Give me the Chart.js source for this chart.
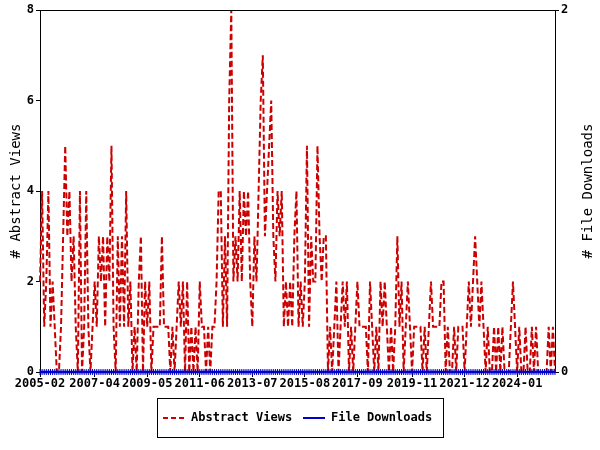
<!DOCTYPE html>
<html>
<head>
<meta charset="utf-8">
<script src="https://cdn.jsdelivr.net/npm/chart.js@4.4.1/dist/chart.umd.min.js"></script>
<style>
  html, body { margin: 0; padding: 0; background: #fff; }
  #wrap { width: 600px; height: 450px; }
</style>
</head>
<body>
<div id="wrap"><canvas id="chart" width="600" height="450"></canvas></div>
<script>
// months from 2005-02, one per point
const START_YEAR = 2005, START_MONTH = 2, N_MONTHS = 246;
const months = [];
for (let i = 0; i < N_MONTHS; i++) {
  const m = START_MONTH - 1 + i;
  const y = START_YEAR + Math.floor(m / 12);
  months.push(y + "-" + String(m % 12 + 1).padStart(2, "0"));
}

// labels shown on the x axis
const tickLabels = ["2005-02", "2007-04", "2009-05", "2011-06", "2013-07",
                    "2015-08", "2017-09", "2019-11", "2021-12", "2024-01"];

// # Abstract Views per month
const abstractViews = [
  2,4,1,2,4,1,2,1,0,0, 1,3,5,3,4,2,3,1,0,4,
  0,1,4,1,0,1,2,1,3,2, 3,1,3,2,5,1,0,3,1,3,
  1,4,1,2,0,1,0,2,3,0, 2,1,2,0,1,1,1,1,3,1,
  1,1,0,1,0,1,2,1,2,0, 2,0,1,0,1,0,2,1,1,0,
  1,0,1,1,2,4,4,1,3,1, 6,8,2,3,2,4,2,4,3,4,
  2,1,3,2,4,6,7,3,4,5, 6,3,2,4,3,4,1,2,1,2,
  1,3,4,1,2,1,2,5,1,3, 2,2,5,3,2,3,3,0,1,0,
  1,2,0,1,2,1,2,0,1,0, 1,2,1,1,1,1,0,2,1,0,
  1,0,2,1,2,1,0,1,0,1, 3,1,2,0,1,2,1,0,1,1,
  1,1,0,1,0,1,2,1,1,1, 1,2,2,0,1,0,0,1,0,1,
  1,1,0,1,2,1,2,3,2,1, 2,1,0,1,0,0,1,0,1,0,
  1,0,0,0,1,2,1,0,1,0, 0,1,0,0,1,0,1,0,0,0,
  0,0,1,0,1,0
];

// # File Downloads per month
const fileDownloads = [
  0,0,0,0,0,0,0,0,0,0, 0,0,0,0,0,0,0,0,0,0,
  0,0,0,0,0,0,0,0,0,0, 0,0,0,0,0,0,0,0,0,0,
  0,0,0,0,0,0,0,0,0,0, 0,0,0,0,0,0,0,0,0,0,
  0,0,0,0,0,0,0,0,0,0, 0,0,0,0,0,0,0,0,0,0,
  0,0,0,0,0,0,0,0,0,0, 0,0,0,0,0,0,0,0,0,0,
  0,0,0,0,0,0,0,0,0,0, 0,0,0,0,0,0,0,0,0,0,
  0,0,0,0,0,0,0,0,0,0, 0,0,0,0,0,0,0,0,0,0,
  0,0,0,0,0,0,0,0,0,0, 0,0,0,0,0,0,0,0,0,0,
  0,0,0,0,0,0,0,0,0,0, 0,0,0,0,0,0,0,0,0,0,
  0,0,0,0,0,0,0,0,0,0, 0,0,0,0,0,0,0,0,0,0,
  0,0,0,0,0,0,0,0,0,0, 0,0,0,0,0,0,0,0,0,0,
  0,0,0,0,0,0,0,0,0,0, 0,0,0,0,0,0,0,0,0,0,
  0,0,0,0,0,0
];

const RED = "#cc0000";
const BLUE = "#0000cc";
const MONO = "'DejaVu Sans Mono', 'Liberation Mono', monospace";

Chart.defaults.font.family = MONO;
Chart.defaults.font.size = 12;
Chart.defaults.color = "#000";

// top border, axis titles and the boxed legend
const extras = {
  id: "extras",
  afterDraw(chart) {
    const { ctx, chartArea: a } = chart;
    ctx.save();
    ctx.strokeStyle = "#000";
    ctx.lineWidth = 1;
    ctx.beginPath();
    ctx.moveTo(a.left, a.top + 0.5);
    ctx.lineTo(a.right + 1, a.top + 0.5);
    ctx.stroke();

    // axis titles, both read bottom to top
    ctx.fillStyle = "#000";
    ctx.font = "14px " + MONO;
    ctx.textAlign = "center";
    ctx.textBaseline = "middle";
    const midY = (a.top + a.bottom) / 2;
    [[16, "# Abstract Views"], [588, "# File Downloads"]].forEach(([x, t]) => {
      ctx.save();
      ctx.translate(x, midY);
      ctx.rotate(-Math.PI / 2);
      ctx.fillText(t, 0, 0);
      ctx.restore();
    });

    // legend
    ctx.strokeRect(157.5, 398.5, 286, 39);
    ctx.font = "bold 12px " + MONO;
    ctx.textAlign = "left";
    ctx.lineWidth = 2;
    ctx.strokeStyle = RED;
    ctx.setLineDash([5, 3]);
    ctx.beginPath(); ctx.moveTo(163, 418); ctx.lineTo(184, 418); ctx.stroke();
    ctx.setLineDash([]);
    ctx.strokeStyle = BLUE;
    ctx.beginPath(); ctx.moveTo(303, 418); ctx.lineTo(325, 418); ctx.stroke();
    ctx.fillText("Abstract Views", 191, 418);
    ctx.fillText("File Downloads", 331, 418);
    ctx.restore();
  }
};

const tickFont = { family: MONO, size: 12, weight: "bold" };

new Chart(document.getElementById("chart"), {
  type: "line",
  data: {
    labels: months,
    datasets: [
      {
        label: "Abstract Views",
        data: abstractViews,
        yAxisID: "y",
        borderColor: RED,
        borderWidth: 2,
        borderDash: [6, 3],
        pointRadius: 0,
        tension: 0,
        order: 2
      },
      {
        label: "File Downloads",
        data: fileDownloads,
        yAxisID: "y2",
        borderColor: BLUE,
        borderWidth: 2.5,
        pointStyle: "line",
        rotation: 90,
        pointRadius: 3,
        pointBorderWidth: 1,
        pointBorderColor: BLUE,
        pointBackgroundColor: BLUE,
        tension: 0,
        clip: 6,
        order: 1
      }
    ]
  },
  options: {
    responsive: false,
    animation: false,
    layout: { padding: { top: 10, left: 0, right: 0, bottom: 0 } },
    plugins: { legend: { display: false }, tooltip: { enabled: false } },
    scales: {
      x: {
        afterFit: s => { s.height = 78; },
        border: { display: true, color: "#000", width: 1 },
        grid: { display: true, drawOnChartArea: false, drawTicks: true, tickLength: 5, color: "#000" },
        ticks: {
          autoSkip: false,
          maxRotation: 0,
          padding: 0,
          font: tickFont,
          callback: function (v, i) {
            const lab = months[i];
            return tickLabels.includes(lab) ? lab : null;
          }
        }
      },
      y: {
        position: "left",
        min: 0, max: 8,
        afterFit: s => { s.width = 40; },
        border: { display: true, color: "#000", width: 1 },
        grid: { display: true, drawOnChartArea: false, drawTicks: true, tickLength: 4, color: "#000" },
        ticks: { stepSize: 2, padding: 2, font: tickFont }
      },
      y2: {
        position: "right",
        min: 0, max: 2,
        afterFit: s => { s.width = 45; },
        border: { display: true, color: "#000", width: 1 },
        grid: { display: true, drawOnChartArea: false, drawTicks: true, tickLength: 4, color: "#000" },
        ticks: { stepSize: 2, padding: 2, font: tickFont }
      }
    }
  },
  plugins: [extras]
});
</script>
</body>
</html>
